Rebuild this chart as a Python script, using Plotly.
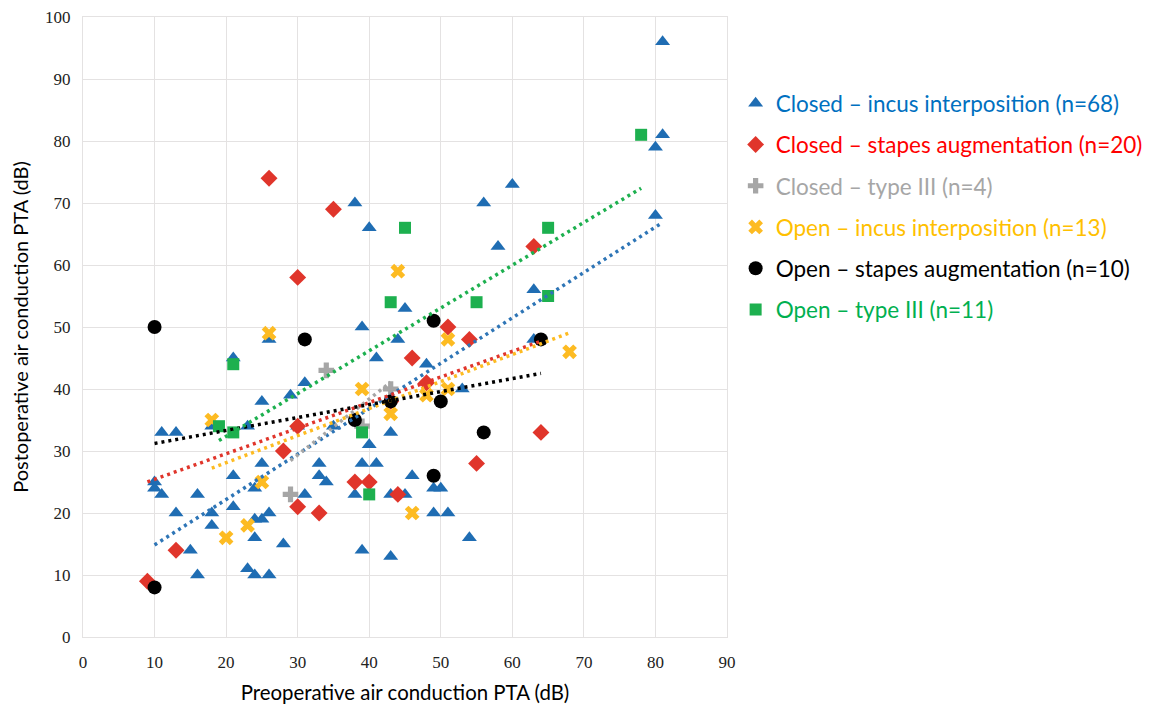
import numpy as np
import plotly.graph_objects as go

# Closed – incus interposition (n=68)
ci_x = [81, 81, 80, 80, 60, 56, 58, 63, 63, 38, 40, 45, 39, 44, 41, 48, 53, 31, 29, 25,
        21, 26, 11, 13, 10, 10, 11, 18, 23, 25, 33, 33, 34, 21, 24, 16, 31, 13, 18, 18,
        21, 24, 25, 26, 24, 28, 15, 16, 23, 24, 26, 43, 40, 39, 41, 46, 49, 50, 38, 43,
        45, 49, 51, 54, 39, 43, 35, 30]
ci_y = [96, 81, 79, 68, 73, 70, 63, 56, 48, 70, 66, 53, 50, 48, 45, 44, 40, 41, 39, 38,
        45, 48, 33, 33, 25, 24, 23, 34, 34, 28, 28, 26, 25, 26, 24, 23, 23, 20, 20, 18,
        21, 19, 19, 20, 16, 15, 14, 10, 11, 10, 10, 33, 31, 28, 28, 26, 24, 24, 23, 23,
        23, 20, 20, 16, 14, 13, 34, 34]

# Closed – stapes augmentation (n=20)
cs_x = [26, 35, 30, 63, 51, 54, 46, 48, 30, 28, 64, 55, 38, 40, 44, 30, 33, 13, 9, 43]
cs_y = [74, 69, 58, 63, 50, 48, 45, 41, 34, 30, 33, 28, 25, 25, 23, 21, 20, 14, 9, 38]

# Closed – type III (n=4)
ct_x = [34, 43, 29, 39]
ct_y = [43, 40, 23, 34]

# Open – incus interposition (n=13)
oi_x = [26, 18, 25, 23, 20, 44, 51, 39, 48, 51, 43, 46, 68]
oi_y = [49, 35, 25, 18, 16, 59, 48, 40, 39, 40, 36, 20, 46]

# Open – stapes augmentation (n=10)
os_x = [10, 31, 49, 43, 50, 38, 56, 49, 64, 10]
os_y = [50, 48, 51, 38, 38, 35, 33, 26, 48, 8]

# Open – type III (n=11)
ot_x = [78, 65, 45, 43, 55, 65, 21, 19, 21, 39, 40]
ot_y = [81, 66, 66, 54, 54, 55, 44, 34, 33, 33, 23]

x_ticks = [0, 10, 20, 30, 40, 50, 60, 70, 80, 90]
y_ticks = [0, 10, 20, 30, 40, 50, 60, 70, 80, 90, 100]

series = [
    ("Closed – incus interposition (n=68)", ci_x, ci_y, "triangle-up", 13, "#1F6DB3", "#0070C0", "#2E75B6"),
    ("Closed – stapes augmentation (n=20)", cs_x, cs_y, "diamond", 13, "#E0352B", "#FF0000", "#E0352B"),
    ("Closed – type III (n=4)", ct_x, ct_y, "cross", 13, "#A6A6A6", "#A6A6A6", "#A6A6A6"),
    ("Open – incus interposition (n=13)", oi_x, oi_y, "x", 13, "#FDBB22", "#FFC000", "#FDBB22"),
    ("Open – stapes augmentation (n=10)", os_x, os_y, "circle", 14, "#000000", "#000000", "#000000"),
    ("Open – type III (n=11)", ot_x, ot_y, "square", 12, "#1DB04F", "#00B050", "#1DB04F"),
]

fig = go.Figure()
for i, (name, xs, ys, sym, size, mcol, tcol, lcol) in enumerate(series):
    fig.add_trace(go.Scatter(
        x=xs, y=ys, mode="markers",
        name=f"<span style='color:{tcol}'>{name}</span>",
        legendgroup=f"g{i}",
        marker=dict(symbol=sym, size=size, color=mcol, line=dict(width=0)),
    ))

for i, (name, xs, ys, sym, size, mcol, tcol, lcol) in enumerate(series):
    a, b = np.polyfit(xs, ys, 1)
    x0, x1 = min(xs), max(xs)
    fig.add_trace(go.Scatter(
        x=[x0, x1], y=[a * x0 + b, a * x1 + b], mode="lines",
        line=dict(color=lcol, width=3.5, dash="3px,4px"),
        showlegend=False, hoverinfo="skip",
    ))

grid = "#E4E2E2"
fig.update_layout(
    width=1152, height=708,
    margin=dict(l=75, r=433, t=9, b=79, autoexpand=False),
    paper_bgcolor="white", plot_bgcolor="white",
    font=dict(family="Lato", color="#000000"),
    legend=dict(
        x=1.0134, y=0.895, xanchor="left", yanchor="top",
        font=dict(family="Lato", size=22.5),
        tracegroupgap=9, itemsizing="trace",
        bgcolor="rgba(0,0,0,0)",
    ),
    xaxis=dict(
        range=[0, 90], tickvals=x_ticks, ticktext=[str(v) for v in x_ticks],
        showgrid=True, gridcolor=grid, gridwidth=1, automargin=False,
        showline=True, linecolor=grid, mirror=True, zeroline=False,
        ticks="", ticklabelstandoff=10, ticklabeloverflow="allow",
        tickfont=dict(family="Liberation Serif", size=17, color="#222222"),
        title=dict(text="Preoperative air conduction PTA (dB)",
                   font=dict(family="Lato", size=20.4), standoff=14),
    ),
    yaxis=dict(
        range=[0, 100], tickvals=y_ticks, ticktext=[str(v) for v in y_ticks],
        showgrid=True, gridcolor=grid, gridwidth=1, automargin=False,
        showline=True, linecolor=grid, mirror=True, zeroline=False,
        ticks="", ticklabelstandoff=8, ticklabeloverflow="allow",
        tickfont=dict(family="Liberation Serif", size=17, color="#222222"),
        title=dict(text="Postoperative air conduction PTA (dB)",
                   font=dict(family="Lato", size=20), standoff=22),
    ),
)

fig.write_html("out.html")
